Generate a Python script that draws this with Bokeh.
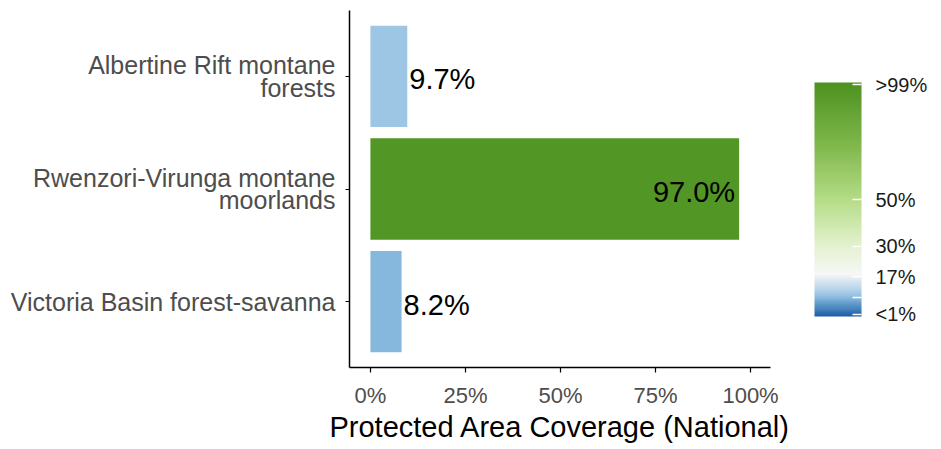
import numpy as np
from bokeh.plotting import figure
from bokeh.models import (ColumnDataSource, FactorRange, Range1d, LinearColorMapper,
                          ColorBar, FixedTicker)
from bokeh.transform import transform
from bokeh.core.properties import value
from bokeh.embed import file_html
from bokeh.resources import INLINE

# ---- data ----
ecoregions = ["Albertine Rift montane\nforests",
              "Rwenzori-Virunga montane\nmoorlands",
              "Victoria Basin forest-savanna"]
coverage = [9.7, 97.0, 8.2]
x_ticks = [0, 25, 50, 75, 100]
x_tick_labels = ["0%", "25%", "50%", "75%", "100%"]
legend_ticks = [1, 8, 17, 30, 50, 99]
legend_labels = ["<1%", "8%", "17%", "30%", "50%", ">99%"]

# ---- colour scale (style) ----
stop_pos = [0, 8, 10, 18, 30, 50, 75, 100]
stop_col = ["#1c5fa8", "#88bade", "#a6cbe6", "#f7f7f7", "#e4f2d0", "#b5dc86", "#7cb548", "#4d9221"]
def _rgb(h):
    h = h.lstrip("#")
    return [int(h[i:i + 2], 16) for i in (0, 2, 4)]
_rgbs = np.array([_rgb(c) for c in stop_col], dtype=float)
_grid = np.linspace(0, 100, 256)
palette = []
for g in _grid:
    r, gg, b = (np.interp(g, stop_pos, _rgbs[:, k]) for k in range(3))
    palette.append("#%02x%02x%02x" % (int(round(r)), int(round(gg)), int(round(b))))
mapper = LinearColorMapper(palette=palette, low=0, high=100)

FONT = "Liberation Sans"

labels = ["%.1f%%" % v for v in coverage]
align = ["right" if v > 50 else "left" for v in coverage]
xoff = [-4 if v > 50 else 2 for v in coverage]
src = ColumnDataSource(dict(eco=ecoregions, cov=coverage, lab=labels, align=align, xoff=xoff))

factors = list(reversed(ecoregions))
p = figure(width=933, height=447, output_backend="svg", toolbar_location=None,
           y_range=FactorRange(factors=factors, range_padding=0.085, range_padding_units="absolute"),
           x_range=Range1d(-5.5, 105.25),
           min_border_left=349, min_border_top=10, min_border_right=163, min_border_bottom=80)
p.outline_line_color = None
p.xgrid.visible = False
p.ygrid.visible = False

p.hbar(y="eco", right="cov", left=0, height=0.9, source=src,
       fill_color=transform("cov", mapper), line_color=None)
p.text(x="cov", y="eco", text="lab", source=src, text_align="align", x_offset="xoff",
       y_offset=3, text_baseline="middle", text_font=value(FONT), text_font_size="29px",
       text_color="black")

# axes
for ax in (p.xaxis[0], p.yaxis[0]):
    ax.axis_line_color = "black"
    ax.axis_line_width = 1.5
    ax.major_tick_line_color = "black"
    ax.major_tick_line_width = 1.2
    ax.minor_tick_line_color = None
    ax.major_tick_in = 0
    ax.major_label_text_font = FONT
    ax.major_label_text_color = "#4d4d4d"

xa = p.xaxis[0]
xa.ticker = FixedTicker(ticks=x_ticks)
xa.major_label_overrides = dict(zip(x_ticks, x_tick_labels))
xa.major_tick_out = 5
xa.major_label_standoff = 10
xa.major_label_text_font_size = "22px"
xa.axis_label = "Protected Area Coverage (National)"
xa.axis_label_text_font = FONT
xa.axis_label_text_font_size = "29px"
xa.axis_label_text_font_style = "normal"
xa.axis_label_text_color = "black"
xa.axis_label_standoff = 0

ya = p.yaxis[0]
ya.major_tick_out = 4
ya.major_label_standoff = 10
ya.major_label_text_font_size = "25px"
ya.major_label_text_line_height = 0.8

cb = ColorBar(color_mapper=mapper, width=47, height=234, margin=0, padding=0,
              location=(44, 51), orientation="vertical",
              ticker=FixedTicker(ticks=legend_ticks),
              major_label_overrides=dict(zip(legend_ticks, legend_labels)),
              major_label_text_font=FONT, major_label_text_font_size="20px",
              major_label_text_color="#1a1a1a",
              major_tick_line_color="white", major_tick_line_width=1.5,
              major_tick_in=9, major_tick_out=0, minor_tick_line_color=None,
              label_standoff=14, bar_line_color=None,
              background_fill_alpha=0, border_line_color=None)
p.add_layout(cb, "right")

open("out.html", "w").write(file_html(p, INLINE))
